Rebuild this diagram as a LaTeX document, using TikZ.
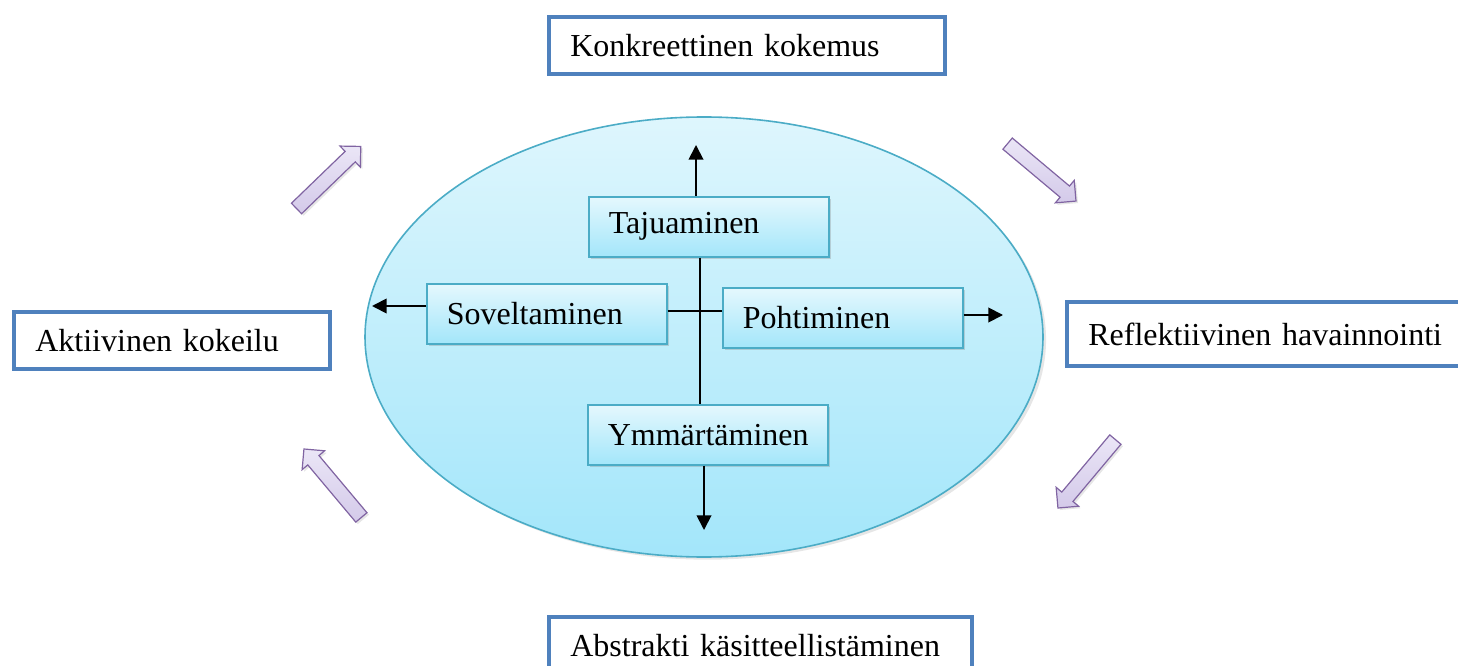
\documentclass[tikz,border=0pt]{standalone}
\usepackage{fontspec}
\setmainfont{Liberation Serif}
\usepackage{xcolor}
\usetikzlibrary{arrows.meta,shapes.geometric,shapes.arrows,shadows}
\definecolor{boxblue}{HTML}{4F81BD}
\definecolor{ellline}{HTML}{4BACC6}
\definecolor{elltop}{HTML}{DEF6FD}
\definecolor{ellbot}{HTML}{A3E6FA}
\definecolor{arrfill}{HTML}{DDD5F1}
\definecolor{arrline}{HTML}{8064A2}
\begin{document}
\begin{tikzpicture}[x=0.75pt,y=-0.75pt,font=\fontsize{24}{28}\selectfont,
outerbox/.style={draw=boxblue,line width=3pt,fill=white,inner xsep=16pt,align=left,minimum height=43pt,anchor=north west},
innerbox/.style={draw=ellline,line width=1.2pt,top color=elltop!80!white,bottom color=ellbot,inner xsep=15pt,text width=150pt,align=left,minimum height=45pt,anchor=north west,drop shadow={shadow xshift=1.5pt,shadow yshift=-2pt,opacity=.3}},
cycarrow/.style={single arrow,draw=arrline,line width=0.9pt,top color=arrfill!60!white,bottom color=arrfill!90!arrline,inner xsep=0pt,inner ysep=5pt,minimum width=22pt,minimum height=67pt,single arrow head extend=5.5pt,drop shadow={shadow xshift=1.5pt,shadow yshift=-1.5pt,opacity=.2}},
line/.style={line width=1.4pt},
tip/.style={-{Triangle[length=11pt,width=11pt]},line width=1.4pt}]
\useasboundingbox(0,0)rectangle(1458,666);
\clip(0,0)rectangle(1458,666);
\node[ellipse,draw=ellline,line width=1.2pt,top color=elltop,bottom color=ellbot,minimum width=508.5pt,minimum height=330pt,drop shadow={shadow yshift=-2pt,opacity=.2}](ell)at(704,337){};
\node[outerbox,text width=265pt](konk)at(547,15){Konkreettinen kokemus};
\node[outerbox,text width=205pt](akt)at(12,310){Aktiivinen kokeilu};
\node[outerbox,text width=390pt,minimum height=48pt](refl)at(1065,300){Reflektiivinen havainnointi};
\node[outerbox,text width=285pt](abs)at(547,615){Abstrakti käsitteellistäminen};
\node[innerbox](taju)at(588,196){Tajuaminen};
\node[innerbox](sov)at(426,283){Soveltaminen};
\node[innerbox](poh)at(722,287){Pohtiminen};
\node[innerbox](ymm)at(587,404){Ymmärtäminen};
\coordinate(top)at(696,145);\coordinate(bot)at(704,530);
\coordinate(left)at(372,306);\coordinate(mid)at(700,311);\coordinate(right)at(1003,315);
\draw[tip](taju.north-|top)--(top);
\draw[line](taju.south-|mid)--(ymm.north-|mid);
\draw[tip](ymm.south-|bot)--(bot);
\draw[tip](sov.west|-left)--(left);
\draw[line](sov.east|-mid)--(poh.west|-mid);
\draw[tip](poh.east|-right)--(right);
\node[cycarrow,rotate=44](a1)at(326,180){};
\node[cycarrow,rotate=-40](a2)at(1039,170){};
\node[cycarrow,rotate=-130](a3)at(1089,471){};
\node[cycarrow,rotate=130](a4)at(335,486){};
\end{tikzpicture}
\end{document}
